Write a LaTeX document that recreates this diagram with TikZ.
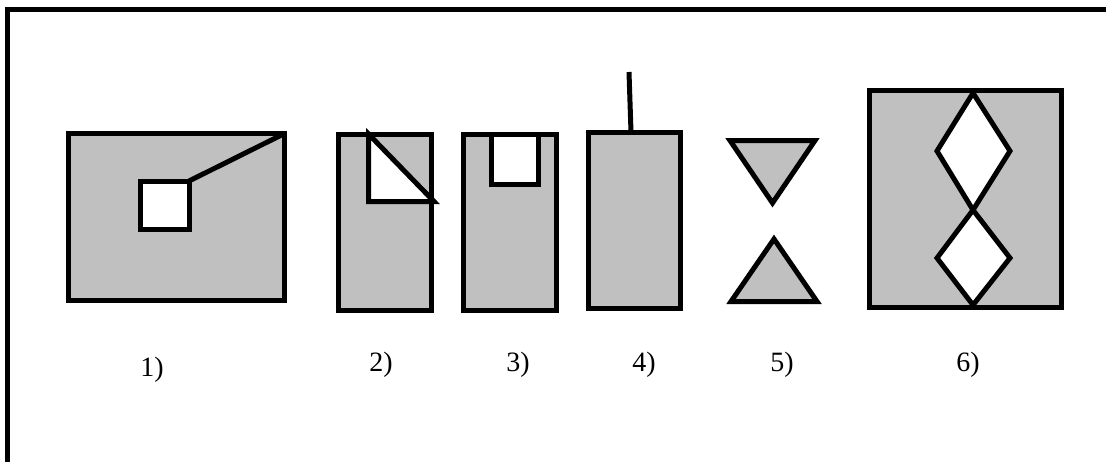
\documentclass[tikz,border=0pt]{standalone}
\usepackage{fontspec}
\setmainfont{Liberation Serif}
\usepackage{xcolor}
\usepackage{tikz}
\definecolor{silver}{HTML}{C0C0C0}
\tikzset{
  frame/.style={draw=black,line width=5pt},
  solid/.style={draw=black,line width=5pt,fill=silver},
  hole/.style={draw=black,line width=5pt,fill=white},
  rod/.style={draw=black,line width=5pt},
  caption/.style={inner sep=0pt,font=\fontsize{28}{30}\selectfont}
}

\begin{document}
\begin{tikzpicture}[x=1pt,y=-1pt]
  \useasboundingbox (0,0) rectangle (1106,461);
  \clip (0,0) rectangle (1106,461);
  \draw[frame] (7.5,9) rectangle (1130,490);
  % 1) block with a hole and a rod to the corner
  \draw[solid] (68.5,133.5) rectangle (284.5,300.5);
  \draw[hole] (140,181) rectangle (189,229);
  \draw[rod] (189,181) -- (284.5,133.5);
  % 2) corner cut
  \draw[solid] (338,134) rectangle (431,310);
  \draw[hole] (368.5,134) -- (368.5,201.5) -- (434,201.5) -- cycle;
  % 3) notch at the top
  \draw[solid] (463,134) rectangle (556,310);
  \draw[hole] (491,134) rectangle (538.5,184);
  % 4) plain block with a rod
  \draw[solid] (588,132) rectangle (680,308);
  \draw[rod] (631,132) -- (629,72);
  % 5) two triangles
  \draw[solid] (730,140.5) -- (815,140.5) -- (772.5,203) -- cycle;
  \draw[solid] (774,239) -- (817,301.5) -- (731,301.5) -- cycle;
  % 6) square with two diamonds
  \draw[solid] (869,90.5) rectangle (1061,307);
  \draw[hole] (973,93) -- (1010,151) -- (973,210) -- (937,151) -- cycle;
  \draw[hole] (973,210) -- (1010,258) -- (973,305) -- (937,258) -- cycle;
  % captions
  \node[caption] (cap1) at (152,370) {1)};
  \node[caption] (cap2) at (381,365) {2)};
  \node[caption] (cap3) at (518,365) {3)};
  \node[caption] (cap4) at (644,365) {4)};
  \node[caption] (cap5) at (782,365) {5)};
  \node[caption] (cap6) at (968,365) {6)};
\end{tikzpicture}
\end{document}
